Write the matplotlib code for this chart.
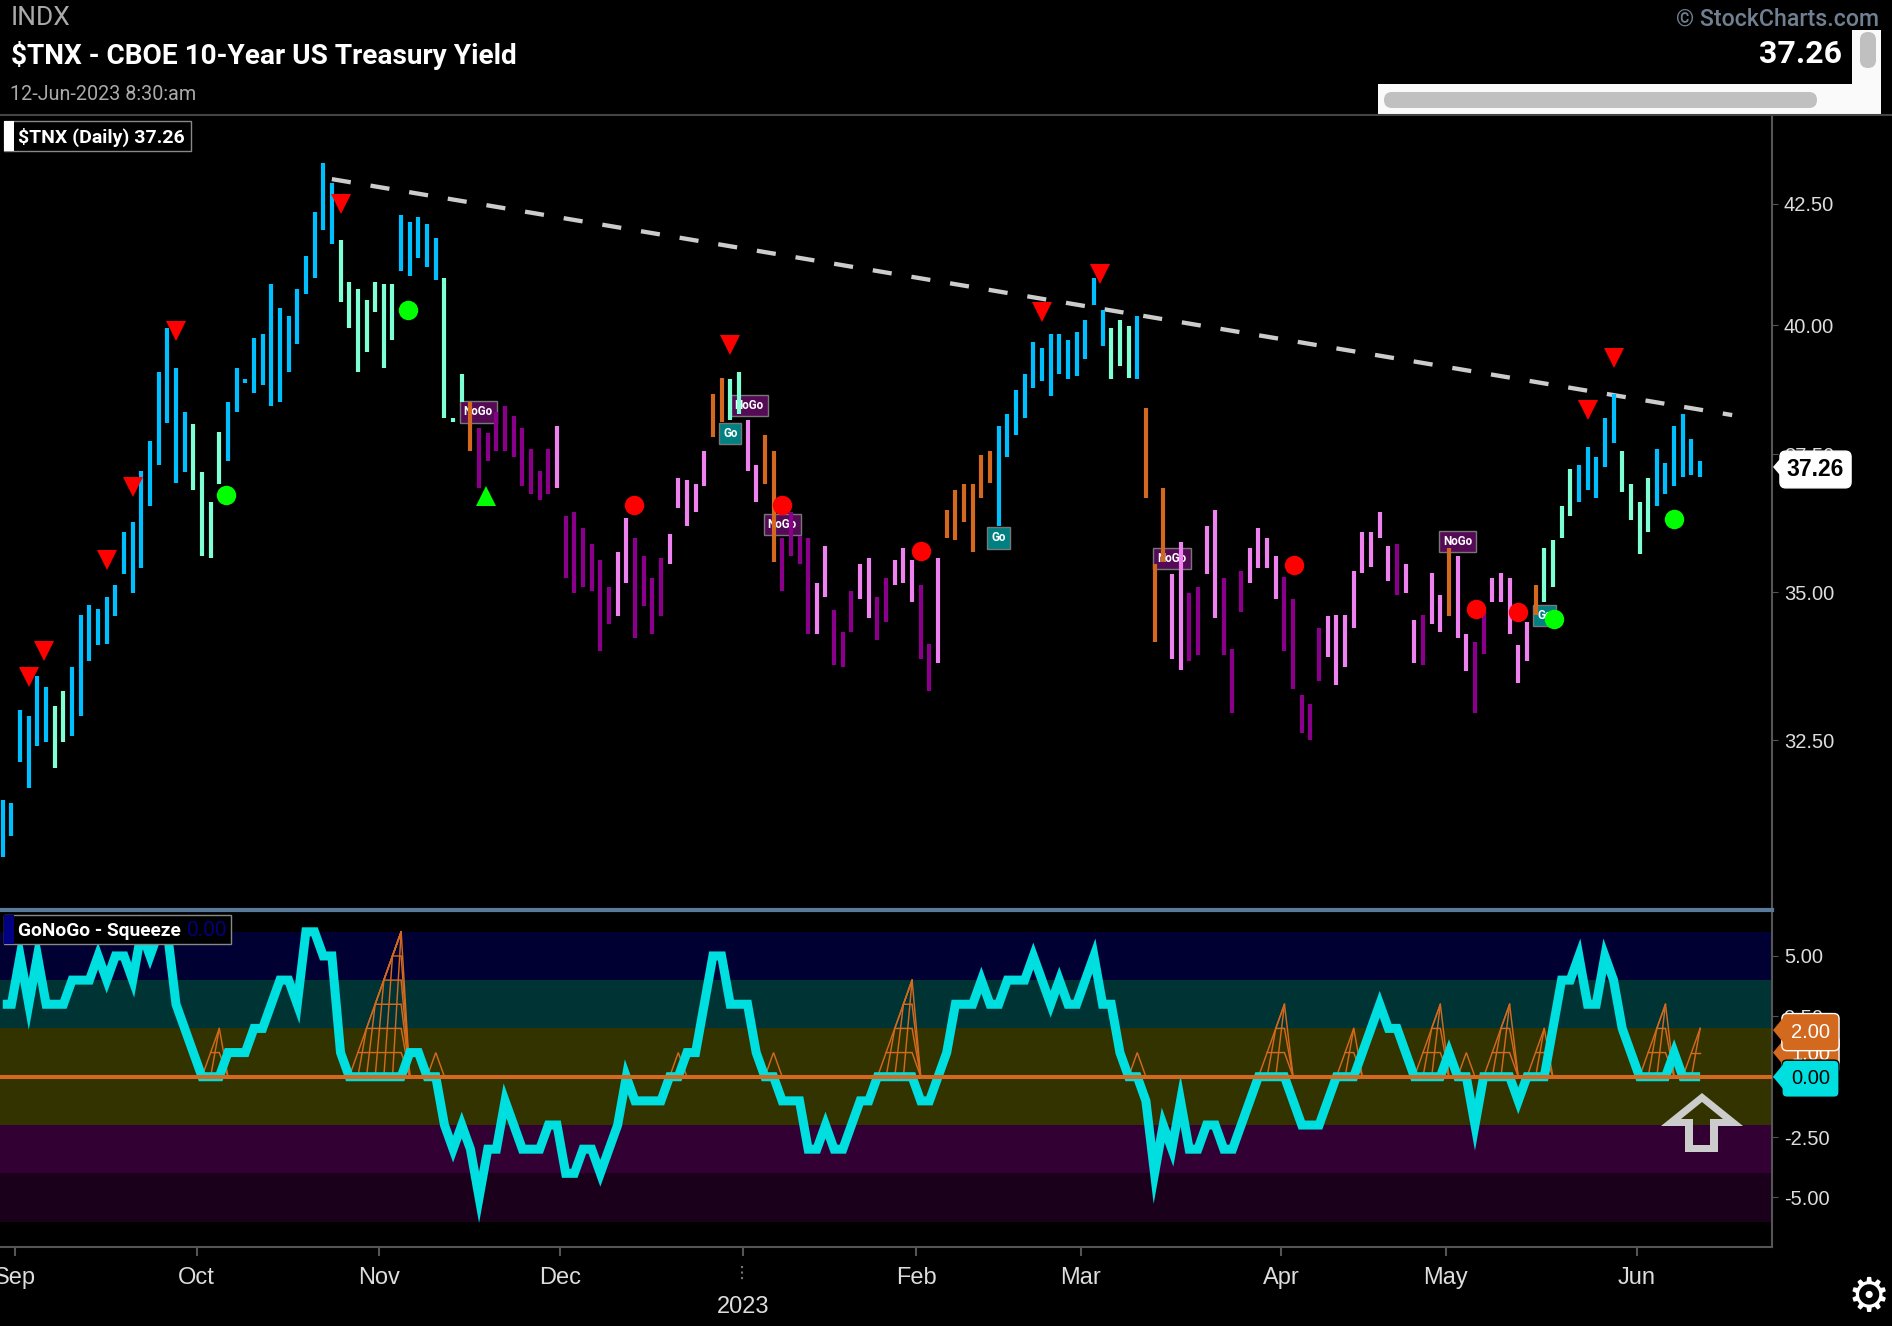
#!/usr/bin/env python
import numpy as np
import matplotlib
matplotlib.use("Agg")
import matplotlib.pyplot as plt
from matplotlib.patches import Rectangle, FancyBboxPatch, PathPatch
from matplotlib.lines import Line2D
from matplotlib.path import Path
from matplotlib.ticker import NullLocator
from matplotlib.transforms import Affine2D

W, H = 1892, 1326

highs = [
    31.55, 31.49, 33.00, 32.90, 33.57, 33.37, 33.07, 33.31, 33.71, 34.61,
    34.78, 34.71, 34.92, 35.13, 36.07, 36.25, 37.19, 37.75, 39.08, 39.94,
    39.16, 38.30, 38.07, 37.16, 36.61, 37.91, 38.50, 39.16, 38.93, 39.75,
    39.82, 40.84, 40.35, 40.18, 40.72, 41.41, 42.32, 43.37, 42.95, 41.74,
    40.88, 40.72, 40.51, 40.88, 40.84, 40.84, 42.27, 42.11, 42.23, 42.07,
    41.78, 40.96, 38.18, 39.04, 38.50, 37.99, 37.89, 38.30, 38.42, 38.22,
    37.99, 37.60, 37.19, 37.60, 38.03, 36.36, 36.43, 36.14, 35.85, 35.56,
    35.09, 35.71, 36.32, 35.96, 35.63, 35.24, 35.60, 36.03, 37.05, 37.01,
    36.94, 37.56, 38.65, 38.96, 38.93, 39.08, 38.14, 37.30, 37.87, 37.56,
    35.96, 36.43, 36.00, 35.96, 35.16, 35.81, 34.68, 34.31, 35.02, 35.49,
    35.60, 34.92, 35.24, 35.56, 35.78, 35.56, 35.13, 34.11, 35.60, 36.47,
    36.83, 36.94, 36.94, 37.48, 37.56, 38.03, 38.26, 38.73, 39.04, 39.67,
    39.55, 39.82, 39.82, 39.71, 39.86, 40.10, 40.96, 40.31, 39.94, 40.10,
    39.98, 40.18, 38.38, 35.49, 36.87, 35.31, 35.89, 34.98, 35.09, 36.18,
    36.47, 35.24, 34.01, 35.38, 35.78, 36.14, 35.96, 35.63, 35.27, 34.88,
    33.25, 33.10, 34.38, 34.58, 34.61, 34.61, 35.38, 36.07, 36.07, 36.43,
    35.81, 35.85, 35.49, 34.51, 34.61, 35.34, 34.95, 35.78, 35.63, 34.28,
    34.14, 34.68, 35.24, 35.34, 35.24, 34.08, 34.48, 35.13, 35.78, 35.92,
    36.54, 37.23, 37.30, 37.64, 37.45, 38.18, 38.65, 37.56, 36.94, 36.61,
    37.05, 37.60, 37.34, 38.03, 38.26, 37.79, 37.37,
]
lows = [
    30.65, 30.98, 32.15, 31.74, 32.40, 32.47, 32.06, 32.47, 32.57, 32.90,
    33.81, 34.08, 34.11, 34.58, 35.31, 34.98, 35.42, 36.54, 37.30, 38.09,
    36.97, 37.16, 36.83, 35.63, 35.60, 36.94, 37.37, 38.30, 38.85, 38.67,
    38.81, 38.42, 38.50, 39.08, 39.63, 40.63, 40.96, 41.95, 41.66, 40.47,
    39.94, 39.08, 39.47, 40.27, 39.16, 39.71, 41.09, 41.00, 41.37, 41.17,
    40.92, 38.18, 38.11, 38.50, 37.56, 36.87, 37.37, 37.56, 37.56, 37.45,
    36.90, 36.76, 36.65, 36.76, 36.87, 35.24, 34.98, 35.09, 35.02, 33.98,
    34.45, 34.58, 35.16, 34.21, 34.75, 34.28, 34.58, 35.49, 36.50, 36.18,
    36.43, 36.90, 37.83, 38.11, 38.14, 38.26, 37.19, 36.61, 36.94, 35.53,
    35.02, 35.63, 35.49, 34.28, 34.28, 34.92, 33.74, 33.71, 34.31, 34.88,
    34.55, 34.18, 34.48, 35.13, 35.16, 34.82, 33.84, 33.31, 33.78, 35.96,
    35.92, 36.25, 35.71, 36.69, 36.97, 36.18, 37.45, 37.87, 38.18, 38.77,
    38.89, 38.61, 39.04, 38.93, 39.00, 39.32, 40.41, 39.59, 38.93, 39.20,
    38.96, 38.93, 36.69, 34.14, 35.53, 33.84, 33.67, 33.81, 33.91, 35.31,
    34.55, 33.91, 32.94, 34.65, 35.16, 35.42, 35.42, 34.88, 33.98, 33.34,
    32.62, 32.50, 33.47, 33.88, 33.41, 33.71, 34.38, 35.34, 35.45, 35.96,
    35.20, 34.95, 34.98, 33.78, 33.74, 34.45, 34.31, 34.58, 34.21, 33.64,
    32.94, 33.94, 34.82, 34.82, 34.28, 33.44, 33.81, 34.61, 34.82, 35.09,
    35.96, 36.36, 36.61, 36.83, 36.69, 37.26, 37.71, 36.79, 36.29, 35.67,
    36.07, 36.54, 36.76, 36.90, 37.08, 37.12, 37.08,
]
# trend colour of each bar, as (code, how many bars)
color_runs = [
    ("b", 6), ("g", 2), ("b", 14), ("g", 4), ("b", 13), ("g", 7), ("b", 5), ("g", 3),
    ("o", 1), ("d", 9), ("p", 1), ("d", 6), ("p", 2), ("d", 4), ("p", 5), ("o", 2),
    ("g", 2), ("p", 2), ("o", 2), ("d", 4), ("p", 2), ("d", 3), ("p", 2), ("d", 2),
    ("p", 3), ("d", 2), ("p", 1), ("o", 6), ("b", 13), ("g", 3), ("b", 1), ("o", 3),
    ("p", 2), ("d", 2), ("p", 2), ("d", 3), ("p", 4), ("d", 5), ("p", 8), ("d", 1),
    ("p", 2), ("d", 1), ("p", 2), ("o", 1), ("p", 2), ("d", 2), ("p", 5), ("o", 1),
    ("g", 4), ("b", 5), ("g", 4), ("b", 6),
]
palette = {"b": "deepskyblue", "g": "aquamarine", "o": "chocolate", "p": "violet", "d": "darkmagenta"}

oscillator = [
    3, 3, 5, 3, 5, 3, 3, 3, 4, 4, 4, 5, 4, 5, 5, 4, 6, 5, 6, 6,
    3, 2, 1, 0, 0, 0, 1, 1, 1, 2, 2, 3, 4, 4, 3, 6, 6, 5, 5, 1,
    0, 0, 0, 0, 0, 0, 0, 1, 1, 0, 0, -2, -3, -2, -3, -5, -3, -3, -1, -2,
    -3, -3, -3, -2, -2, -4, -4, -3, -3, -4, -3, -2, 0, -1, -1, -1, -1, 0, 0, 1,
    1, 3, 5, 5, 3, 3, 3, 1, 0, 0, -1, -1, -1, -3, -3, -2, -3, -3, -2, -1,
    -1, 0, 0, 0, 0, 0, -1, -1, 0, 1, 3, 3, 3, 4, 3, 3, 4, 4, 4, 5,
    4, 3, 4, 3, 3, 4, 5, 3, 3, 1, 0, 0, -1, -4, -2, -3, -1, -3, -3, -2,
    -2, -3, -3, -2, -1, 0, 0, 0, 0, -1, -2, -2, -2, -1, 0, 0, 0, 1, 2, 3,
    2, 2, 1, 0, 0, 0, 0, 1, 0, 0, -2, 0, 0, 0, 0, -1, 0, 0, 0, 2,
    4, 4, 5, 3, 3, 5, 4, 2, 1, 0, 0, 0, 0, 1, 0, 0, 0,
]
squeeze = [
    0, 0, 0, 0, 0, 0, 0, 0, 0, 0, 0, 0, 0, 0, 0, 0, 0, 0, 0, 0,
    0, 0, 0, 0, 1, 2, 0, 0, 0, 0, 0, 0, 0, 0, 0, 0, 0, 0, 0, 0,
    0, 1, 2, 3, 4, 5, 6, 0, 0, 0, 1, 0, 0, 0, 0, 0, 0, 0, 0, 0,
    0, 0, 0, 0, 0, 0, 0, 0, 0, 0, 0, 0, 0, 0, 0, 0, 0, 0, 1, 0,
    0, 0, 0, 0, 0, 0, 0, 0, 0, 1, 0, 0, 0, 0, 0, 0, 0, 0, 0, 0,
    0, 0, 1, 2, 3, 4, 0, 0, 0, 0, 0, 0, 0, 0, 0, 0, 0, 0, 0, 0,
    0, 0, 0, 0, 0, 0, 0, 0, 0, 0, 0, 1, 0, 0, 0, 0, 0, 0, 0, 0,
    0, 0, 0, 0, 0, 0, 1, 2, 3, 0, 0, 0, 0, 0, 0, 1, 2, 0, 0, 0,
    0, 0, 0, 0, 1, 2, 3, 0, 0, 1, 0, 0, 1, 2, 3, 0, 0, 1, 2, 0,
    0, 0, 0, 0, 0, 0, 0, 0, 0, 0, 1, 2, 3, 0, 0, 1, 2,
]

# signal markers: bar position and price
sell_x = [3, 4.8, 12, 15, 20, 39, 84, 120, 126.7, 183, 186]
sell_y = [33.54, 33.98, 35.56, 36.88, 39.88, 42.50, 39.61, 40.27, 41.04, 38.34, 39.34]
go_dot_x = [25.8, 46.8, 179.1, 193]
go_dot_y = [36.74, 40.31, 34.53, 36.30]
buy_x = [55.8]
buy_y = [36.72]
nogo_dot_x = [72.9, 90, 106, 149.1, 170.1, 175]
nogo_dot_y = [36.56, 36.56, 35.73, 35.47, 34.71, 34.66]
nogo_label_x = [54.9, 86.2, 90, 135, 168]
nogo_label_y = [38.30, 38.42, 36.21, 35.60, 35.89]
go_label_x = [84, 115, 178]
go_label_y = [37.89, 35.96, 34.60]

trend_x = [38, 199.7]
trend_y = [43.03, 38.24]

price_ticks = [32.5, 35.0, 37.5, 40.0, 42.5]
osc_ticks = [-5.0, -2.5, 0.0, 2.5, 5.0]
month_ticks = [1.4, 22.4, 43.4, 64.4, 85.5, 105.5, 124.5, 147.6, 166.6, 188.7]
month_labels = ["Sep", "Oct", "Nov", "Dec", "", "Feb", "Mar", "Apr", "May", "Jun"]

band_edges = [6, 4, 2, 0, -2, -4, -6]
band_colors = ["#000033", "#003333", "#333300", "#333300", "#330033", "#1a001a"]

last_price = 37.26

plt.rcParams["font.family"] = ["Liberation Sans", "DejaVu Sans"]
axis_gray = "#555555"
text_gray = "#dddddd"

fig = plt.figure(figsize=(W / 100, H / 100), dpi=100, facecolor="black")
chrome = Affine2D().scale(1, -1).translate(0, H)

xlim = (-0.323, 204.3)
ax = fig.add_axes([0, 1 - 909 / H, 1772 / W, (909 - 116) / H], facecolor="black")
osc = fig.add_axes([0, 1 - 1247 / H, 1772 / W, (1247 - 912) / H], facecolor="black")

# price panel
xs = np.arange(len(highs))
bar_colors = [palette[c] for c, n in color_runs for i in range(n)]
ax.set_yscale("log")
ax.set_xlim(*xlim)
ax.set_ylim(29.87, 44.41)
ax.vlines(xs, lows, highs, colors=bar_colors, linewidth=3.0, zorder=3)
ax.plot(trend_x, trend_y, color="#cccccc", lw=3.1, linestyle=(0, (4.45, 4.65)), dash_capstyle="butt", zorder=2)
ax.plot(sell_x, sell_y, "v", color="red", ms=15, mew=0, zorder=5)
ax.plot(go_dot_x, go_dot_y, "o", color="lime", ms=14, mew=0, zorder=5)
ax.plot(buy_x, buy_y, "^", color="lime", ms=15, mew=0, zorder=5)
ax.plot(nogo_dot_x, nogo_dot_y, "o", color="red", ms=14, mew=0, zorder=5)
for x, y in zip(nogo_label_x, nogo_label_y):
    ax.text(x, y, "NoGo", color="white", fontsize=8.4, fontweight="bold", family="Roboto", ha="center", va="center",
            bbox=dict(boxstyle="square,pad=0.35", fc="#550a55", ec="#777777", lw=1), zorder=2)
for x, y in zip(go_label_x, go_label_y):
    ax.text(x, y, "Go", color="white", fontsize=8.4, fontweight="bold", family="Roboto", ha="center", va="center",
            bbox=dict(boxstyle="square,pad=0.35", fc="#008080", ec="#777777", lw=1), zorder=2)

ax.yaxis.tick_right()
ax.yaxis.set_minor_locator(NullLocator())
ax.set_yticks(price_ticks)
ax.set_yticklabels(["%.2f" % v for v in price_ticks])
ax.set_xticks([])
ax.tick_params(axis="y", length=4, color=axis_gray, labelcolor=text_gray, labelsize=14.5, pad=4.5)

# oscillator panel
osc.set_xlim(*xlim)
osc.set_ylim(-7.05, 6.82)
for i in range(len(band_colors)):
    osc.axhspan(band_edges[i + 1], band_edges[i], color=band_colors[i], lw=0, zorder=0)

# squeeze ladder: every run of rising values gets its rungs and its fan of uprights
thin = dict(color="chocolate", lw=1.05, zorder=2, solid_joinstyle="miter")
i = 0
n = len(squeeze)
while i < n:
    if squeeze[i] == 0:
        i += 1
        continue
    start = i - 1
    end = i
    while end + 1 < n and squeeze[end + 1] > 0:
        end += 1
    tail = [end + 1] if end + 1 < n else []
    run = list(range(start, end + 1)) + tail
    osc.plot(run, [squeeze[k] for k in run], **thin)
    for level in range(1, squeeze[end]):
        first = start + level
        rung = list(range(first, end + 1))
        osc.plot(rung + tail, [level] * len(rung) + [0] * len(tail), **thin)
        osc.plot(list(range(first, end + 1)), [0] + [squeeze[k] for k in range(first + 1, end + 1)], **thin)
    i = end + 1

osc.plot(xs, oscillator, color="#00dfe0", lw=6.5, solid_joinstyle="miter", solid_capstyle="butt", zorder=3)
osc.axhline(0, color="chocolate", lw=2.9, zorder=4)

osc.yaxis.tick_right()
osc.set_yticks(osc_ticks)
osc.set_yticklabels(["%.2f" % v for v in osc_ticks])
osc.set_xticks(month_ticks)
osc.set_xticklabels(month_labels)
osc.tick_params(axis="y", length=4, color=axis_gray, labelcolor=text_gray, labelsize=14.5, pad=4.5)
osc.tick_params(axis="x", length=6.5, width=1.5, color=axis_gray, labelcolor=text_gray, labelsize=17, pad=8)
osc.annotate("2023", xy=(month_ticks[4], 0), xycoords=osc.get_xaxis_transform(), xytext=(0, -43.5),
             textcoords="offset points", ha="center", va="center", color=text_gray, fontsize=17, annotation_clip=False)

for a in (ax, osc):
    for name in ("left", "top", "bottom"):
        a.spines[name].set_visible(False)
    a.spines["right"].set_color(axis_gray)
    a.spines["right"].set_linewidth(1.5)
osc.spines["bottom"].set_visible(True)
osc.spines["bottom"].set_color(axis_gray)
osc.spines["bottom"].set_linewidth(1.5)


def value_tag(a, value, half, text, size, weight, pad, right, fc, tc, ec, z):
    # half is half of the tag's height, in units of the y scale
    tr = a.get_yaxis_transform()
    left = 1783
    cx = (left + right) / 2
    a.text(cx / 1772, value, text, transform=tr, color=tc, fontsize=size, fontweight=weight,
           ha="center", va="center_baseline", clip_on=False, zorder=z,
           bbox=dict(boxstyle="round,pad=%.2f,rounding_size=0.25" % pad, fc=fc, ec=ec, lw=1))
    a.fill([1773 / 1772, 1785 / 1772, 1785 / 1772], [value, value + half, value - half], transform=tr,
           color=fc, lw=0, clip_on=False, zorder=z + 0.5)


value_tag(ax, last_price, last_price * 0.007, "%.2f" % last_price, 16.5, "bold", 0.3, 1848, "white", "black", "white", 8)
value_tag(osc, 1, 0.6, "1.00", 14.5, "normal", 0.45, 1838, "chocolate", "white", "white", 8)
value_tag(osc, 1.93, 0.6, "2.00", 14.5, "normal", 0.45, 1838, "chocolate", "white", "white", 9)
value_tag(osc, 0, 0.6, "0.00", 14.5, "normal", 0.45, 1838, "#00dfe0", "black", "black", 10)

# header and page furniture, placed in pixels from the top left
fig.add_artist(Line2D([0, W], [115, 115], transform=chrome, color="#444444", lw=1.5))
fig.add_artist(Line2D([0, 1772], [910, 910], transform=chrome, color="#5a7a9a", lw=3))
fig.text(11, 18, "INDX", transform=chrome, color="#aaaaaa", fontsize=19, va="center", family="Roboto")
fig.text(11, 56, "$TNX - CBOE 10-Year US Treasury Yield", transform=chrome, color="white", fontsize=20.2, fontweight="bold", va="center", family="Roboto")
fig.text(10, 94, "12-Jun-2023 8:30:am", transform=chrome, color="#aaaaaa", fontsize=14.2, va="center", family="Roboto")
fig.text(1879, 19, "\u00a9 StockCharts.com", transform=chrome, color="#708090", fontsize=16.7, fontweight="medium", ha="right", va="center", family="Roboto")
fig.text(1842, 54, "%.2f" % last_price, transform=chrome, color="white", fontsize=23, fontweight="bold", ha="right", va="center", family="Roboto")

fig.add_artist(Rectangle((1378, 84), 503, 30, transform=chrome, fc="#fafafa", ec="none"))
fig.add_artist(Rectangle((1852, 30), 29, 84, transform=chrome, fc="#fafafa", ec="none"))
fig.add_artist(FancyBboxPatch((1384, 92), 433, 16, boxstyle="round,pad=0,rounding_size=8", transform=chrome, fc="#c0c0c0", ec="none"))
fig.add_artist(FancyBboxPatch((1860, 32), 16, 36, boxstyle="round,pad=0,rounding_size=8", transform=chrome, fc="#c0c0c0", ec="none"))

# legends
fig.add_artist(Rectangle((4, 121), 187, 30, transform=chrome, fc="black", ec="#888888", lw=1))
fig.add_artist(Rectangle((4, 121), 10, 30, transform=chrome, fc="white", ec="none"))
fig.text(18, 137, "$TNX (Daily) 37.26", transform=chrome, color="white", fontsize=14, fontweight="bold", va="center", family="Roboto")
fig.add_artist(Rectangle((4, 915), 227, 29, transform=chrome, fc="black", ec="#888888", lw=1))
fig.add_artist(Rectangle((4, 915), 10, 29, transform=chrome, fc="#000080", ec="none"))
fig.text(18, 931, "GoNoGo - Squeeze", transform=chrome, color="white", fontsize=13.8, fontweight="bold", va="center", family="Roboto")
fig.text(187, 931, "0.00", transform=chrome, color="#000080", fontsize=15, va="center", family="Roboto")

# hollow arrow
outer = [(1702, 1093), (1743, 1126), (1718, 1126), (1718, 1152), (1685, 1152), (1685, 1126), (1661, 1126), (1702, 1093)]
inner = [(1702, 1102), (1681, 1119), (1693, 1119), (1693, 1145), (1710, 1145), (1710, 1119), (1723, 1119), (1702, 1102)]
verts = outer + inner
codes = [Path.MOVETO] + [Path.LINETO] * 6 + [Path.CLOSEPOLY] + [Path.MOVETO] + [Path.LINETO] * 6 + [Path.CLOSEPOLY]
fig.add_artist(PathPatch(Path(verts, codes), transform=chrome, fc="#cccccc", ec="none"))

fig.add_artist(Line2D([742, 742], [1266, 1282], transform=chrome, color="#777777", lw=1.5, linestyle=":"))
fig.text(1869, 1299, "\u2699", transform=chrome, color="white", fontsize=34, fontweight="bold", ha="center", va="center", family="DejaVu Sans")

fig.savefig("out.png", dpi=100, facecolor="black")
